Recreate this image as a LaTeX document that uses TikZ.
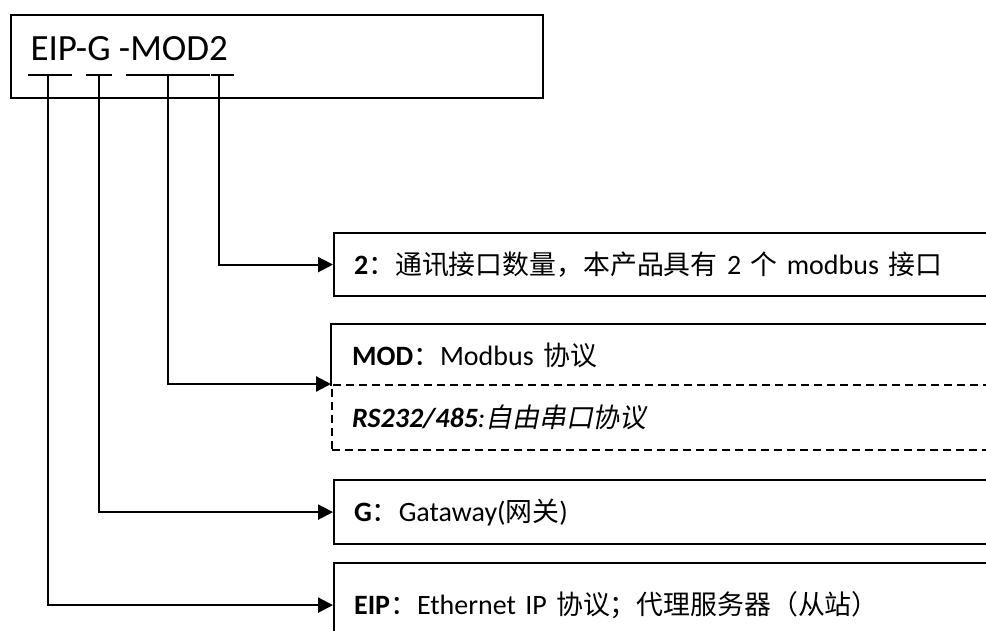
\documentclass[tikz,border=0pt]{standalone}
\usepackage{fontspec}
\setmainfont{Carlito}
\newfontfamily\cjk[Scale=0.96]{Noto Sans CJK SC}
\newfontfamily\cjkit[Scale=0.96,FakeSlant=0.2]{Noto Sans CJK SC}
\usetikzlibrary{arrows.meta}

\tikzset{
  rule/.style={line width=2.2pt},
  field/.style={rule, draw, anchor=north west, minimum width=700pt,
                text width=660pt, align=left, inner xsep=15pt,
                font=\fontsize{28}{32}\selectfont},
  conn/.style={rule, -{Triangle[length=15pt,width=15pt]}},
}

\begin{document}
\begin{tikzpicture}[x=1pt, y=-1pt]
\clip (0,0) rectangle (986,630);

% Model code frame
\node[rule, draw, anchor=north west, minimum width=532pt, minimum height=83pt]
  (frame) at (10,14) {};
\node[anchor=base west, font=\fontsize{37}{40}\selectfont] (code) at (27,60) {EIP-G -MOD2};

% Underlines below each part of the code
\foreach \a/\b in {28/72, 86/112, 126/210, 211/234}
  \draw[rule] (\a,75) -- (\b,75);
\coordinate (tEIP) at (48,75);
\coordinate (tG)   at (99,75);
\coordinate (tMOD) at (168,75);
\coordinate (tNUM) at (219,75);

% Meaning of each part
\node[field, minimum height=63pt] (num) at (333,232)
  {{\bfseries 2}{\cjk ：}{\cjk 通讯接口数量，本产品具有} 2 {\cjk 个} modbus {\cjk 接口}};

\node[field, draw=none, minimum height=60pt] (mod) at (331,324)
  {{\bfseries MOD}{\cjk ：}Modbus {\cjk 协议}};
\draw[rule] (mod.south west) -- (mod.north west) -- (mod.north east);
\node[field, dash pattern=on 8pt off 5pt, minimum height=65pt] (rs) at (331,384)
  {{\bfseries\itshape RS232/485}{\itshape :}{\cjkit 自由串口协议}};

\node[field, minimum height=64pt] (gw) at (333,479)
  {{\bfseries G}{\cjk ：}Gataway({\cjk 网关})};

\node[field, minimum height=84pt] (eip) at (333,562)
  {{\bfseries EIP}{\cjk ：}Ethernet IP {\cjk 协议；代理服务器（从站）}};

% Leader lines
\draw[conn] (tNUM) |- (num.west);
\draw[conn] (tMOD) |- (rs.north west);
\draw[conn] (tG)   |- (gw.west);
\draw[conn] (tEIP) |- (eip.west);

\end{tikzpicture}
\end{document}
